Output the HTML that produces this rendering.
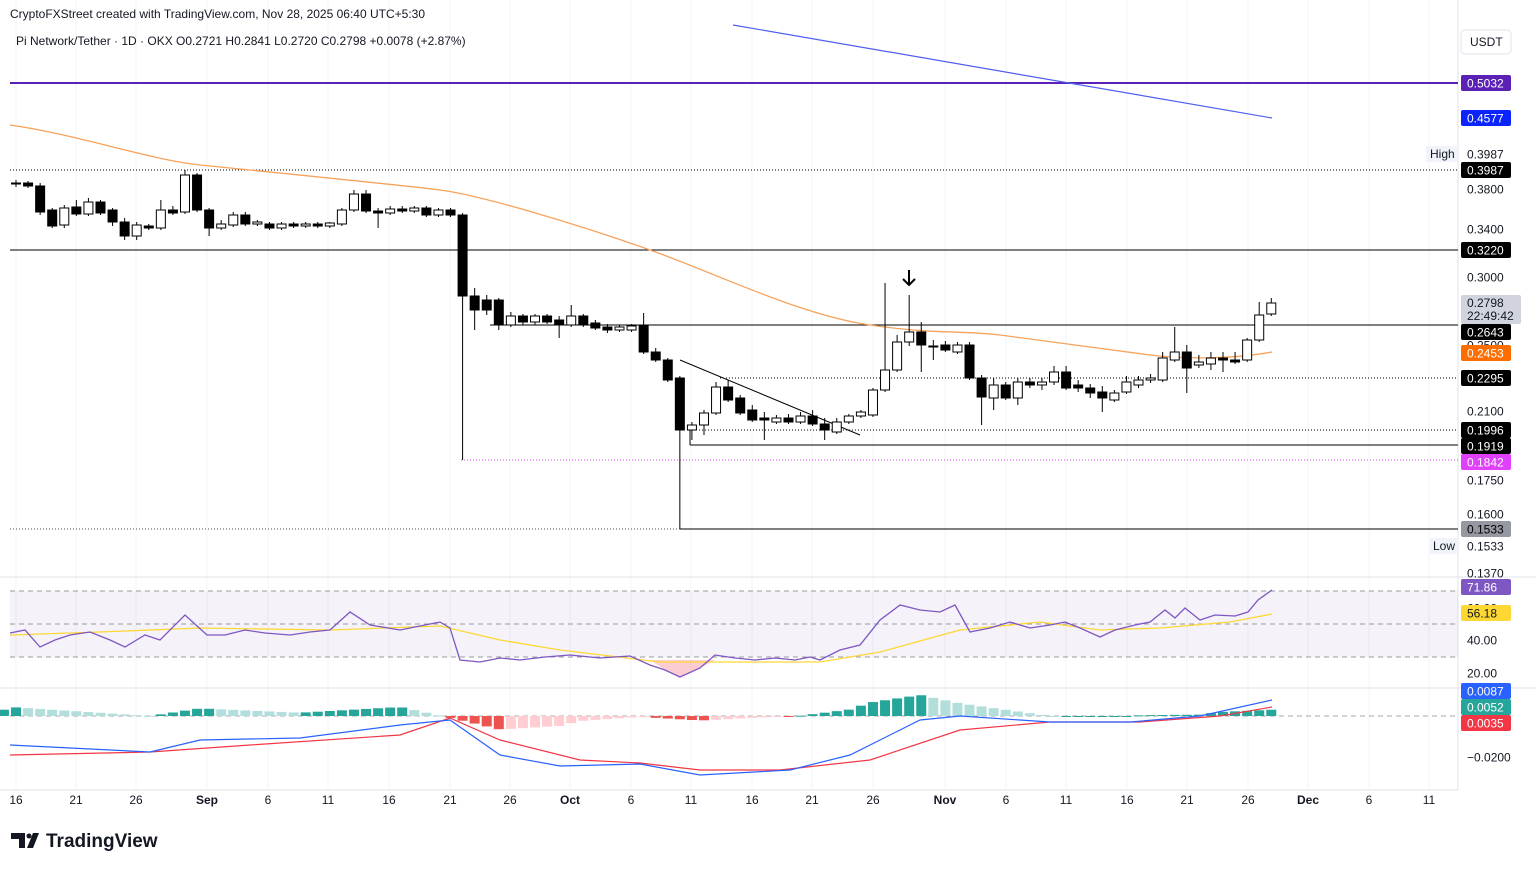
<!DOCTYPE html>
<html><head><meta charset="utf-8"><style>
body{margin:0;background:#fff;font-family:"Liberation Sans",sans-serif;}
svg text{font-family:"Liberation Sans",sans-serif;}
</style></head><body>
<svg id="s" width="1536" height="869" xmlns="http://www.w3.org/2000/svg"></svg>
<script>
const S=document.getElementById('s');let h='';
const add=t=>h+=t;
// grid
for(const x of [16,76,136,207,268,328,389,450,510,570,631,691,752,812,873,945,1006,1066,1127,1187,1248,1308,1369,1429]) add(`<line x1="${x}" y1="0" x2="${x}" y2="790" stroke="#f3f4f7"/>`);
add(`<line x1="1458" y1="0" x2="1458" y2="790" stroke="#e0e3eb"/>`);
add(`<line x1="0" y1="577" x2="1536" y2="577" stroke="#e0e3eb"/><line x1="0" y1="688" x2="1536" y2="688" stroke="#e0e3eb"/><line x1="0" y1="790" x2="1458" y2="790" stroke="#e0e3eb"/>`);
// levels
add(`<line x1="10" y1="83" x2="1458" y2="83" stroke="#5b21b6" stroke-width="2"/>`);
add(`<line x1="733" y1="25" x2="1272" y2="118" stroke="#4f5ef0" stroke-width="1.2"/>`);
add(`<line x1="10" y1="170" x2="1458" y2="170" stroke="#000" stroke-dasharray="1,2"/>`);
add(`<line x1="10" y1="250" x2="1458" y2="250" stroke="#000"/>`);
add(`<line x1="490" y1="325" x2="1458" y2="325" stroke="#000"/>`);
add(`<line x1="720" y1="378" x2="1458" y2="378" stroke="#000" stroke-dasharray="1,2"/>`);
add(`<line x1="690" y1="430" x2="1458" y2="430" stroke="#000" stroke-dasharray="1,2"/>`);
add(`<line x1="690" y1="445" x2="1458" y2="445" stroke="#000"/><line x1="690" y1="430" x2="690" y2="445" stroke="#000"/>`);
add(`<line x1="461" y1="460" x2="1458" y2="460" stroke="#d946ef" stroke-dasharray="1,2"/>`);
add(`<line x1="10" y1="529" x2="680" y2="529" stroke="#555" stroke-dasharray="1,2"/><line x1="680" y1="529" x2="1458" y2="529" stroke="#000"/>`);
add(`<line x1="680" y1="360" x2="860" y2="435" stroke="#000"/>`);
add(`<path d="M10 125 C80 135 150 160 200 165 S400 185 440 190 S580 225 650 250 S800 315 870 325 S960 330 1000 335 S1110 350 1150 355 S1240 358 1272 352" fill="none" stroke="#f7a35c" stroke-width="1.3"/>`);
// arrow
add(`<path d="M909 270 L909 285 M903 279 L909 285 L915 279" stroke="#000" stroke-width="2" fill="none"/>`);
// candles [o,h,l,c] in y px
const C=[[183,180,187,183],[183,181,188,186],[186,183,215,212],[210,208,228,226],[225,205,228,208],[207,200,216,214],[214,198,216,202],[202,200,215,213],[210,208,226,222],[222,218,240,236],[236,222,240,225],[226,224,230,228],[228,200,230,210],[210,206,215,213],[212,170,214,175],[175,173,212,210],[210,208,236,228],[228,220,230,224],[225,212,227,215],[215,212,226,224],[224,220,226,222],[224,222,230,228],[228,222,230,224],[224,222,228,226],[226,222,228,224],[224,222,228,226],[226,222,228,223],[224,208,226,210],[210,190,212,194],[194,190,213,211],[211,208,228,213],[213,206,215,209],[209,206,213,211],[211,206,213,208],[208,206,217,215],[215,208,217,210],[210,208,217,215],[215,213,460,296],[296,288,330,310],[300,295,315,310],[300,298,330,325],[325,312,327,316],[316,314,325,322],[322,314,325,316],[316,314,324,322],[320,316,338,325],[325,305,327,316],[316,314,327,325],[323,320,330,328],[327,324,333,330],[330,325,332,327],[330,324,332,326],[326,313,354,352],[352,348,362,360],[360,358,382,380],[378,376,529,430],[430,422,440,425],[425,410,435,413],[413,382,415,387],[387,380,402,400],[398,395,415,413],[410,405,422,420],[418,412,440,420],[422,415,424,418],[418,414,424,422],[422,412,424,416],[416,410,426,424],[424,418,440,430],[432,418,434,422],[422,414,424,416],[416,410,418,412],[415,388,417,390],[390,283,392,370],[370,335,372,342],[342,295,346,332],[332,322,372,345],[346,340,360,346],[345,341,352,350],[352,342,354,345],[345,342,380,378],[378,375,425,397],[398,378,410,385],[385,382,400,398],[398,378,405,382],[382,378,388,385],[385,378,390,382],[382,366,385,372],[372,366,390,388],[385,380,392,388],[388,384,398,393],[392,386,412,398],[400,390,402,393],[392,376,394,382],[385,376,388,380],[380,374,383,378],[380,352,382,358],[360,327,362,352],[352,345,393,368],[365,355,368,362],[364,352,370,358],[358,352,372,360],[360,352,364,362],[360,338,362,340],[340,302,342,315],[314,298,316,303]];
C.forEach((c,i)=>{const x=16+i*12.07;const[o,hi,lo,cl]=c;const up=cl<o;const t=Math.min(o,cl),b=Math.max(o,cl);
add(`<line x1="${x}" y1="${hi}" x2="${x}" y2="${lo}" stroke="#000"/>`);
add(`<rect x="${x-4.5}" y="${t}" width="9" height="${Math.max(1,b-t)}" fill="${up?'#fff':'#000'}" stroke="#000" stroke-width="1"/>`);});
// RSI
add(`<rect x="10" y="591" width="1448" height="66" fill="#7e57c2" fill-opacity="0.08"/>`);
for(const y of [591,624,657]) add(`<line x1="10" y1="${y}" x2="1458" y2="${y}" stroke="#999" stroke-dasharray="5,4"/>`);
const pl=a=>a.map(p=>p.join(',')).join(' ');
const rsi=[[10,633],[25,630],[40,647],[55,640],[70,635],[90,632],[110,640],[125,647],[145,635],[160,640],[185,615],[207,635],[225,635],[245,630],[265,633],[290,635],[310,632],[330,630],[350,612],[370,625],[400,630],[440,622],[450,628],[460,660],[480,662],[500,658],[520,660],[545,657],[570,655],[600,658],[630,656],[650,665],[665,670],[680,677],[700,668],[715,655],[735,658],[755,660],[775,658],[795,660],[810,657],[820,660],[840,650],[860,645],[880,620],[900,605],[920,610],[940,612],[955,605],[970,632],[990,628],[1010,622],[1030,628],[1050,625],[1065,622],[1080,628],[1100,637],[1115,630],[1135,625],[1150,622],[1165,610],[1175,618],[1185,608],[1200,620],[1215,615],[1235,616],[1248,612],[1258,600],[1272,590]];
const rma=[[10,635],[100,632],[200,628],[330,630],[440,626],[500,640],[560,650],[660,662],[820,662],[880,652],[960,630],[1040,622],[1100,630],[1160,628],[1230,622],[1272,614]];
add(`<polygon points="650,660 665,670 680,677 700,668 715,660 650,660" fill="#f23645" fill-opacity="0.25"/>`);
add(`<polyline points="${pl(rma)}" fill="none" stroke="#fdd835" stroke-width="1.3"/>`);
add(`<polyline points="${pl(rsi)}" fill="none" stroke="#7e57c2" stroke-width="1.3"/>`);
// MACD
add(`<line x1="10" y1="716" x2="1458" y2="716" stroke="#aaa" stroke-dasharray="5,4"/>`);
const bl=[[10,745],[150,752],[200,740],[300,738],[400,725],[450,720],[500,755],[560,766],[640,764],[700,775],[790,770],[850,755],[920,720],[960,716],[1050,722],[1130,722],[1200,716],[1272,700]];
const rd=[[10,755],[150,752],[250,745],[400,735],[450,718],[500,740],[580,760],[640,763],[700,770],[780,770],[870,760],[960,730],[1050,722],[1140,722],[1220,716],[1272,707]];
const itp=(a,x)=>{for(let i=0;i<a.length-1;i++){if(x>=a[i][0]&&x<=a[i+1][0]){const t=(x-a[i][0])/(a[i+1][0]-a[i][0]);return a[i][1]+t*(a[i+1][1]-a[i][1]);}}return a[a.length-1][1];};
let prev=0;
for(let i=-1;i<C.length;i++){const x=16+i*12.07;const v=(itp(rd,x)-itp(bl,x))*0.9;const col=v>=0?(v>=prev?'#26a69a':'#b2dfdb'):(v<=prev?'#ef5350':'#ffcdd2');prev=v;
const y=v>=0?716-v:716;add(`<rect x="${x-5}" y="${y}" width="10" height="${Math.max(1,Math.abs(v))}" fill="${col}"/>`);}
add(`<polyline points="${pl(rd)}" fill="none" stroke="#f23645" stroke-width="1.2"/>`);
add(`<polyline points="${pl(bl)}" fill="none" stroke="#2962ff" stroke-width="1.2"/>`);
// right axis
const lab=(y,t,bg,fg)=>{add(`<rect x="1461" y="${y-8}" width="50" height="16" rx="2" fill="${bg}"/><text x="1467" y="${y+4.5}" font-size="12" fill="${fg}">${t}</text>`);};
for(const [y,t] of [[189,'0.3800'],[229,'0.3400'],[277,'0.3000'],[411,'0.2100'],[480,'0.1750'],[514,'0.1600'],[573,'0.1370'],[608,'60.00'],[640,'40.00'],[673,'20.00'],[757,'−0.0200'],[345,'0.2500']]) add(`<text x="1467" y="${y+4.5}" font-size="12" fill="#131722">${t}</text>`);
lab(83,'0.5032','#5b21b6','#fff');lab(118,'0.4577','#0b24fb','#fff');
add(`<rect x="1426" y="146" width="32" height="16" fill="#f0f3fa"/><text x="1430" y="158" font-size="12" fill="#131722">High</text>`);
lab(154,'0.3987','#fff','#131722');lab(170,'0.3987','#000','#fff');lab(250,'0.3220','#000','#fff');
add(`<rect x="1461" y="295" width="60" height="29" rx="2" fill="#d1d4dc"/><text x="1467" y="307" font-size="12" fill="#131722">0.2798</text><text x="1467" y="320" font-size="12" fill="#131722">22:49:42</text>`);
lab(332,'0.2643','#000','#fff');lab(353,'0.2453','#ff6d00','#fff');lab(378,'0.2295','#000','#fff');
lab(430,'0.1996','#000','#fff');lab(446,'0.1919','#000','#fff');lab(462,'0.1842','#e040fb','#fff');lab(529,'0.1533','#9598a1','#000');
add(`<rect x="1430" y="538" width="28" height="16" fill="#f0f3fa"/><text x="1433" y="550" font-size="12" fill="#131722">Low</text>`);lab(546,'0.1533','#fff','#131722');
lab(587,'71.86','#7e57c2','#fff');lab(613,'56.18','#fdd835','#131722');
lab(691,'0.0087','#2962ff','#fff');lab(707,'0.0052','#26a69a','#fff');lab(723,'0.0035','#f23645','#fff');
add(`<rect x="1461" y="30" width="50" height="24" rx="4" fill="#fff" stroke="#e0e3eb"/><text x="1470" y="46" font-size="12" fill="#131722">USDT</text>`);
// time axis
[[16,'16'],[76,'21'],[136,'26'],[207,'Sep'],[268,'6'],[328,'11'],[389,'16'],[450,'21'],[510,'26'],[570,'Oct'],[631,'6'],[691,'11'],[752,'16'],[812,'21'],[873,'26'],[945,'Nov'],[1006,'6'],[1066,'11'],[1127,'16'],[1187,'21'],[1248,'26'],[1308,'Dec'],[1369,'6'],[1429,'11']].forEach(([x,t])=>add(`<text x="${x}" y="804" font-size="12" text-anchor="middle" fill="#131722" ${/[A-Z]/.test(t)?'font-weight="bold"':''}>${t}</text>`));
// header
add(`<text x="10" y="18" font-size="12" fill="#131722">CryptoFXStreet created with TradingView.com, Nov 28, 2025 06:40 UTC+5:30</text>`);
add(`<text x="16" y="45" font-size="12" fill="#131722">Pi Network/Tether · 1D · OKX  O0.2721  H0.2841  L0.2720  C0.2798  +0.0078 (+2.87%)</text>`);
add(`<path d="M11 833 h14 v15 h-6 v-9 h-8z M27 848 l6 -15 h6 l-6 15z" fill="#131722"/><circle cx="29" cy="836" r="2.5" fill="#131722"/>`);
add(`<text x="46" y="847" font-size="19" font-weight="bold" fill="#131722">TradingView</text>`);
S.innerHTML=h;
</script>
</body></html>
